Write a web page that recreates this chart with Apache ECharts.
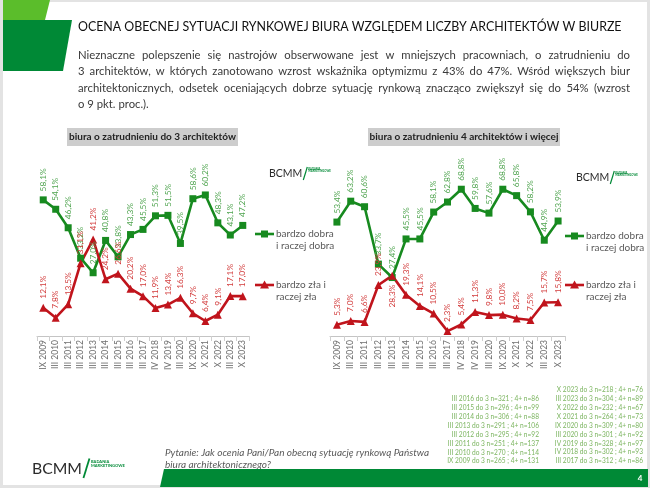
<!DOCTYPE html>
<html><head><meta charset="utf-8">
<script src="https://cdn.jsdelivr.net/npm/echarts@6/dist/echarts.min.js"></script>
<style>html,body{margin:0;padding:0;background:#fff}#c{width:650px;height:488px}</style>
</head><body><div id="c"></div><script>
// ---------- DATA ----------
const categories = ['IX 2009','III 2010','III 2011','III 2012','III 2013','III 2014','III 2015','III 2016','III 2017','IV 2018','IV 2019','III 2020','IX 2020','X 2021','X 2022','III 2023','X 2023'];
const smallGood = [58.1,54.1,46.2,33.2,27.0,40.8,33.8,43.3,45.5,51.3,51.5,39.5,58.6,60.2,48.3,43.1,47.2];
const smallBad  = [12.1,7.8,13.5,31.1,41.2,24.2,26.6,20.2,17.0,11.9,13.4,16.3,9.7,6.4,9.1,17.1,17.0];
const largeGood = [53.4,63.2,60.6,33.7,27.4,45.5,45.5,58.1,62.8,68.8,59.8,57.6,68.8,65.8,58.2,44.9,53.9];
const largeBad  = [5.3,7.0,6.6,23.9,28.3,19.3,14.1,10.5,2.3,5.4,11.3,9.8,10.0,8.2,7.5,15.7,15.8];
const seriesNames = ['bardzo dobra i raczej dobra','bardzo zła i raczej zła'];
const legendLines = [['bardzo dobra','i raczej dobra'],['bardzo zła i','raczej zła']];
const panelTitles = ['biura o zatrudnieniu do 3 architektów','biura o zatrudnieniu 4 architektów i więcej'];
const mainTitle = 'OCENA OBECNEJ SYTUACJI RYNKOWEJ BIURA WZGLĘDEM LICZBY ARCHITEKTÓW W BIURZE';
const paragraph = [
 'Nieznaczne polepszenie się nastrojów obserwowane jest w mniejszych pracowniach, o zatrudnieniu do',
 '3 architektów, w których zanotowano wzrost wskaźnika optymizmu z 43% do 47%. Wśród większych biur',
 'architektonicznych, odsetek oceniających dobrze sytuację rynkową znacząco zwiększył się do 54% (wzrost',
 'o 9 pkt. proc.).'
];
const notesLeft = ['III 2016 do 3 n=321 ; 4+ n=86','III 2015 do 3 n=296 ; 4+ n=99','III 2014 do 3 n=306 ; 4+ n=88','III 2013 do 3 n=291 ; 4+ n=106','III 2012 do 3 n=295 ; 4+ n=92','III 2011 do 3 n=251 ; 4+ n=137','III 2010 do 3 n=270 ; 4+ n=114','IX 2009 do 3 n=265 ; 4+ n=131'];
const notesRight = ['X 2023 do 3 n=218 ; 4+ n=76','III 2023 do 3 n=304 ; 4+ n=89','X 2022 do 3 n=232 ; 4+ n=67','X 2021 do 3 n=264 ; 4+ n=73','IX 2020 do 3 n=309 ; 4+ n=80','III 2020 do 3 n=301 ; 4+ n=92','IV 2019 do 3 n=328 ; 4+ n=97','IV 2018 do 3 n=302 ; 4+ n=93','III 2017 do 3 n=312 ; 4+ n=86'];
const question = ['Pytanie: Jak ocenia Pani/Pan obecną sytuację rynkową Państwa','biura architektonicznego?'];
const pageNumber = '4';

// ---------- STYLE ----------
const FONT = 'Lato, "Noto Sans", sans-serif';
const GREEN = '#178a1f', RED = '#c0141c';
const GREEN_LBL = '#4fa44f', RED_LBL = '#d23a3a';
const BRAND = '#008936';

const mctx = document.createElement('canvas').getContext('2d');
function measure(t, size, weight, style){ mctx.font = (style||'normal')+' '+(weight||'normal')+' '+size+'px '+FONT; return mctx.measureText(t).width; }

const fmt = v => v.toFixed(1).replace('.', ',') + '%';

function lineSeries(name, data, xi, color, lblColor, symbol, symSize, overrides){
  return {
    type:'line', name, xAxisIndex:xi, yAxisIndex:xi,
    data: data.map((v,i)=> overrides && overrides[i] ? {value:v, label:overrides[i]} : v),
    symbol, symbolSize:symSize, showAllSymbol:true,
    lineStyle:{color, width:2.6}, itemStyle:{color},
    label:{show:true, position:'top', rotate:90, distance:5, align:'left', verticalAlign:'middle',
      fontSize:8.3, color:lblColor, fontFamily:FONT, formatter:p=>fmt(p.value)},
    animation:false, z:3
  };
}
const bottomLbl = {position:'bottom', align:'right'};

const g = [];
// slide frame
g.push({type:'rect', shape:{x:1.5,y:0.5,width:647,height:486}, style:{fill:'#fff', stroke:'#e3e3e3', lineWidth:3}, z:-10});
// corner shapes
g.push({type:'polygon', shape:{points:[[3,0],[50,0],[45,20],[3,20]]}, style:{fill:'#5bbd2b'}});
g.push({type:'polygon', shape:{points:[[3,20],[72,20],[63,71],[3,71]]}, style:{fill:BRAND}});
// title (fit width)
const tW = 544; const tSize = 14 * tW / measure(mainTitle, 14);
g.push({type:'text', style:{x:78, y:27, text:mainTitle, fontSize:tSize, fontFamily:FONT, fill:'#111', textVerticalAlign:'middle'}});
// paragraph justified
const pSize = 11.3, pX = 78, pW = 552;
paragraph.forEach((line,li)=>{
  const y = 55 + li*16.5;
  const words = line.split(' ');
  if(li === paragraph.length-1){
    g.push({type:'text', style:{x:pX, y, text:line, fontSize:pSize, fontFamily:FONT, fill:'#3a3a3a', textVerticalAlign:'middle'}});
    return;
  }
  const ws = words.map(w=>measure(w,pSize));
  const gap = (pW - ws.reduce((a,b)=>a+b,0))/(words.length-1);
  let x = pX;
  words.forEach((w,i)=>{ g.push({type:'text', style:{x, y, text:w, fontSize:pSize, fontFamily:FONT, fill:'#3a3a3a', textVerticalAlign:'middle'}}); x += ws[i]+gap; });
});
// panel titles
[[67,171,panelTitles[0]],[368,192,panelTitles[1]]].forEach(([x,w,t])=>{
  g.push({type:'rect', shape:{x, y:128, width:w, height:18}, style:{fill:'#cdcdcd'}});
  g.push({type:'text', style:{x:x+w/2, y:137, text:t, fontSize:10, fontWeight:'bold', fontFamily:FONT, fill:'#222', textAlign:'center', textVerticalAlign:'middle'}});
});
// logo helper
function logo(x, y, s){
  g.push({type:'text', style:{x, y, text:'BCMM', fontSize:10.5*s, fontFamily:FONT, fill:'#2b2b2b', textVerticalAlign:'middle'}});
  const bw = measure('BCMM', 10.5*s);
  g.push({type:'line', shape:{x1:x+bw+1*s, y1:y+6*s, x2:x+bw+5*s, y2:y-7*s}, style:{stroke:BRAND, lineWidth:1.2*s}});
  g.push({type:'text', style:{x:x+bw+6*s, y:y-5*s, text:'BADANIA', fontSize:2.7*s, fontWeight:'bold', fontFamily:FONT, fill:BRAND, textVerticalAlign:'middle'}});
  g.push({type:'text', style:{x:x+bw+6*s, y:y-2.4*s, text:'MARKETINGOWE', fontSize:2.7*s, fontWeight:'bold', fontFamily:FONT, fill:BRAND, textVerticalAlign:'middle'}});
}
logo(269, 174, 1);
logo(576, 178, 1);
logo(32, 469, 1.5);
// legends
function legend(x, yG, yR, lh){
  g.push({type:'line', shape:{x1:x, y1:yG, x2:x+19, y2:yG}, style:{stroke:GREEN, lineWidth:2.6}});
  g.push({type:'rect', shape:{x:x+6, y:yG-3.5, width:7, height:7}, style:{fill:GREEN}});
  g.push({type:'line', shape:{x1:x, y1:yR, x2:x+19, y2:yR}, style:{stroke:RED, lineWidth:2.6}});
  g.push({type:'polygon', shape:{points:[[x+9.5,yR-4.5],[x+14,yR+3.5],[x+5,yR+3.5]]}, style:{fill:RED}});
  legendLines[0].forEach((t,i)=>g.push({type:'text', style:{x:x+21, y:yG+i*lh, text:t, fontSize:10, fontFamily:FONT, fill:'#595959', textVerticalAlign:'middle'}}));
  legendLines[1].forEach((t,i)=>g.push({type:'text', style:{x:x+21, y:yR+i*lh, text:t, fontSize:10, fontFamily:FONT, fill:'#595959', textVerticalAlign:'middle'}}));
}
legend(255, 234, 285, 12);
legend(565, 236, 285, 12);
// sample notes
notesRight.forEach((t,i)=>g.push({type:'text', style:{x:643, y:390+i*8.9, text:t, fontSize:6.6, fontFamily:FONT, fill:'#7cb560', textAlign:'right', textVerticalAlign:'middle'}}));
notesLeft.forEach((t,i)=>g.push({type:'text', style:{x:539, y:399+i*8.9, text:t, fontSize:6.6, fontFamily:FONT, fill:'#7cb560', textAlign:'right', textVerticalAlign:'middle'}}));
// question
question.forEach((t,i)=>g.push({type:'text', style:{x:165, y:453+i*11.5, text:t, fontSize:10, fontStyle:'italic', fontFamily:FONT, fill:'#5a5a5a', textVerticalAlign:'middle'}}));
// bottom bar
g.push({type:'polygon', shape:{points:[[160,487],[164,469],[648,469],[648,487]]}, style:{fill:BRAND}});
g.push({type:'text', style:{x:640, y:478, text:pageNumber, fontSize:8, fontWeight:'bold', fontFamily:FONT, fill:'#fff', textAlign:'center', textVerticalAlign:'middle'}});

const xAxisBase = gi => ({
  type:'category', gridIndex:gi, data:categories, boundaryGap:true,
  axisLine:{lineStyle:{color:'#c4c4c4', width:1}},
  axisTick:{show:true, interval:0, alignWithLabel:false, length:5, lineStyle:{color:'#cfcfcf'}},
  axisLabel:{interval:0, rotate:90, fontSize:8.5, color:'#6f6f6f', fontFamily:FONT, margin:4}
});
const yAxisBase = (gi,max) => ({type:'value', gridIndex:gi, min:0, max, show:false, splitLine:{show:false}});

const option = {
  animation:false,
  textStyle:{fontFamily:FONT},
  grid:[
    {left:37, width:212, top:172, height:164},
    {left:330, width:235, top:176, height:160}
  ],
  xAxis:[xAxisBase(0), xAxisBase(1)],
  yAxis:[yAxisBase(0,70), yAxisBase(1,75)],
  series:[
    lineSeries(seriesNames[0], smallGood, 0, GREEN, GREEN_LBL, 'rect', 7),
    lineSeries(seriesNames[1], smallBad, 0, RED, RED_LBL, 'triangle', 8),
    lineSeries(seriesNames[0], largeGood, 1, GREEN, GREEN_LBL, 'rect', 7),
    lineSeries(seriesNames[1], largeBad, 1, RED, RED_LBL, 'triangle', 8, {4:bottomLbl})
  ],
  graphic: g
};
const chart = echarts.init(document.getElementById('c'), null, {renderer:'canvas'});
chart.setOption(option);
</script></body></html>
